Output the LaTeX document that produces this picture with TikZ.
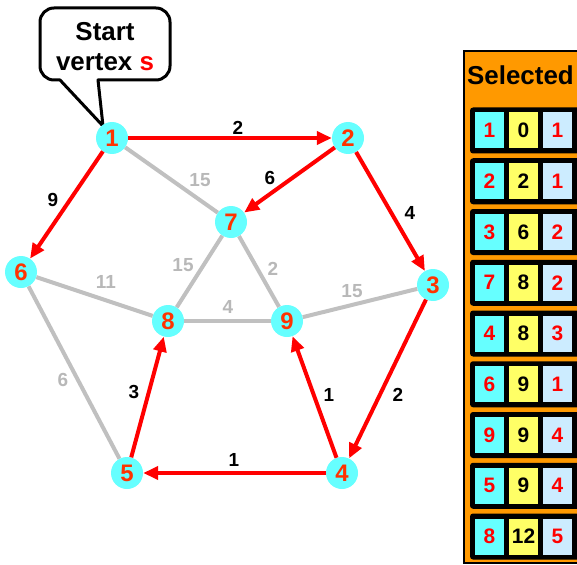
\documentclass[tikz,border=0pt]{standalone}
\usepackage{fontspec}
\setmainfont{Liberation Sans}
\usetikzlibrary{arrows.meta}
\definecolor{vcyan}{HTML}{66FFFF}
\definecolor{vyellow}{HTML}{FFFF66}
\definecolor{vblue}{HTML}{CCECFF}
\definecolor{vorange}{HTML}{FF9900}
\definecolor{vnum}{HTML}{FF3300}
\definecolor{vred}{HTML}{FF0000}
\definecolor{egray}{HTML}{C0C0C0}
\definecolor{lgray}{HTML}{B8B8B8}
\tikzset{
  vtx/.style={circle, fill=vcyan, minimum size=32bp, inner sep=0pt, text=vnum, font=\fontsize{24}{24}\selectfont\bfseries},
  redarrow/.style={draw=vred, line width=4bp, -{Triangle[length=15bp,width=13bp]}},
  grayedge/.style={draw=egray, line width=4bp},
  lblk/.style={inner sep=0pt, text=black, font=\fontsize{19}{19}\selectfont\bfseries},
  lblg/.style={inner sep=0pt, text=lgray, font=\fontsize{19}{19}\selectfont\bfseries},
  cellc/.style={minimum width=29bp, minimum height=36bp, inner sep=0pt, fill=vcyan, text=vred, font=\fontsize{21}{21}\selectfont\bfseries},
  celly/.style={minimum width=29bp, minimum height=36bp, inner sep=0pt, fill=vyellow, text=black, font=\fontsize{21}{21}\selectfont\bfseries},
  cellb/.style={minimum width=29bp, minimum height=36bp, inner sep=0pt, fill=vblue, text=vred, font=\fontsize{21}{21}\selectfont\bfseries},
}
\begin{document}
\begin{tikzpicture}[x=1bp, y=-1bp]
\useasboundingbox (0,0) rectangle (577,565);
% table panel
\begin{scope}
\clip (0,0) rectangle (577,565);
\fill[vorange, draw=black, line width=2bp] (464,51) rectangle (600,563);
\node[anchor=west, inner sep=0pt, font=\fontsize{26}{26}\selectfont\bfseries] (sel) at (467,75) {Selected};
\foreach \i/\a/\b/\c in {1/1/0/1, 2/2/2/1, 3/3/6/2, 4/7/8/2, 5/4/8/3, 6/6/9/1, 7/9/9/4, 8/5/9/4, 9/8/12/5} {
  \pgfmathsetmacro{\yy}{130.5+50.75*(\i-1)}
  \fill[black, rounded corners=3bp] (470,\yy-23) rectangle (590,\yy+23);
  \node[cellc] (c\i) at (489.5,\yy) {\a};
  \node[celly] (y\i) at (523.5,\yy) {\b};
  \node[cellb] (b\i) at (557.5,\yy) {\c};
}
\end{scope}
% callout
\draw[line width=3bp, fill=white, line join=round] (60,80) -- (103,126) -- (98,80) [rounded corners=14bp] -- (170,80) -- (170,8) -- (40,8) -- (40,80) [sharp corners] -- cycle;
\node[align=center, inner sep=0pt, font=\fontsize{26}{30}\selectfont\bfseries] (callout) at (105,47) {Start\\vertex \textcolor{vred}{s}};
% vertices
\node[vtx] (v1) at (112,138) {1};
\node[vtx] (v2) at (348,138) {2};
\node[vtx] (v3) at (433,285) {3};
\node[vtx] (v4) at (342,473) {4};
\node[vtx] (v5) at (127,473) {5};
\node[vtx] (v6) at (21,272) {6};
\node[vtx] (v7) at (231,222) {7};
\node[vtx] (v8) at (168,321) {8};
\node[vtx] (v9) at (287,321) {9};
% gray edges
\draw[grayedge] (v1) -- (v7);
\draw[grayedge] (v6) -- (v8);
\draw[grayedge] (v6) -- (v5);
\draw[grayedge] (v7) -- (v8);
\draw[grayedge] (v7) -- (v9);
\draw[grayedge] (v8) -- (v9);
\draw[grayedge] (v9) -- (v3);
% red arrows
\draw[redarrow] (v1) -- (v2);
\draw[redarrow] (v1) -- (v6);
\draw[redarrow] (v2) -- (v7);
\draw[redarrow] (v2) -- (v3);
\draw[redarrow] (v3) -- (v4);
\draw[redarrow] (v4) -- (v5);
\draw[redarrow] (v4) -- (v9);
\draw[redarrow] (v5) -- (v8);
% labels
\node[lblk] (l12) at (238,128) {2};
\node[lblk] (l16) at (53,200) {9};
\node[lblk] (l27) at (270,178) {6};
\node[lblk] (l23) at (410,213) {4};
\node[lblk] (l34) at (398,395) {2};
\node[lblk] (l49) at (329,395) {1};
\node[lblk] (l58) at (134,392) {3};
\node[lblk] (l45) at (234,460) {1};
\node[lblg] (l17) at (200,180) {15};
\node[lblg] (l78) at (183,265) {15};
\node[lblg] (l79) at (273,269) {2};
\node[lblg] (l68) at (106,282) {11};
\node[lblg] (l89) at (228,307) {4};
\node[lblg] (l93) at (352,291) {15};
\node[lblg] (l65) at (63,380) {6};
\end{tikzpicture}
\end{document}
